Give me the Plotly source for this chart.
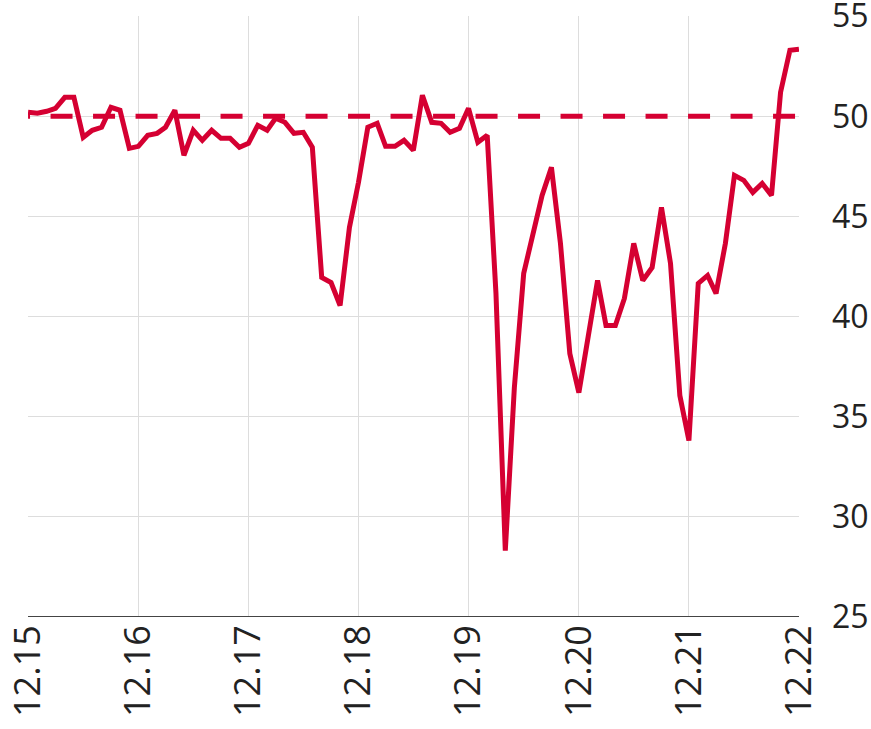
import pandas as pd
import plotly.graph_objects as go

# Monthly dates Dec 2015 .. Dec 2022
dates = pd.date_range("2015-12-01", "2022-12-01", freq="MS").strftime("%Y-%m-%d").tolist()

values = [
    50.2, 50.15, 50.25, 50.4, 50.95, 50.95, 48.95, 49.3, 49.45, 50.45, 50.3, 48.4,
    48.5, 49.05, 49.15, 49.45, 50.3, 48.05, 49.3, 48.8, 49.3, 48.9, 48.9, 48.45,
    48.65, 49.55, 49.3, 49.9, 49.7, 49.15, 49.2, 48.45, 41.95, 41.7, 40.55, 44.45,
    46.7, 49.45, 49.65, 48.5, 48.5, 48.8, 48.3, 51.05, 49.7, 49.65, 49.2, 49.4,
    50.4, 48.7, 49.05, 41.15, 28.3, 36.45, 42.15, 43.95, 46.05, 47.45, 43.65, 38.15,
    36.2, 39.0, 41.8, 39.55, 39.55, 40.9, 43.65, 41.8, 42.45, 45.45, 42.65, 36.05,
    33.8, 41.65, 42.05, 41.15, 43.65, 47.05, 46.8, 46.2, 46.65, 46.05, 51.2, 53.3,
    53.35,
]

threshold = 50

tick_dates = ["2015-12-01", "2016-12-01", "2017-12-01", "2018-12-01",
              "2019-12-01", "2020-12-01", "2021-12-01", "2022-12-01"]
tick_labels = ["12.15", "12.16", "12.17", "12.18", "12.19", "12.20", "12.21", "12.22"]
y_ticks = [25, 30, 35, 40, 45, 50, 55]

RED = "#D50032"

fig = go.Figure()
fig.add_trace(go.Scatter(
    x=[dates[0], dates[-1]], y=[threshold, threshold], mode="lines",
    line=dict(color=RED, width=5, dash="2px,20.5px,20px,0px"),
    hoverinfo="skip", showlegend=False,
))
fig.add_trace(go.Scatter(
    x=dates, y=values, mode="lines",
    line=dict(color=RED, width=5),
    showlegend=False,
))

fig.update_layout(
    width=871, height=729,
    margin=dict(l=28, r=72, t=16, b=112),
    plot_bgcolor="white", paper_bgcolor="white",
    font=dict(family="Open Sans", size=34, color="#222222"),
    xaxis=dict(
        range=["2015-11-30 20:00", "2022-12-01 04:00"],
        tickvals=tick_dates, ticktext=tick_labels, tickangle=-90,
        tickfont=dict(size=36),
        showgrid=True, gridcolor="#dddddd", gridwidth=1,
        showline=False, ticks="", ticklabelstandoff=0, zeroline=False,
        automargin=False, ticklabeloverflow="allow",
    ),
    yaxis=dict(
        range=[24.99, 55.01], side="right", tickvals=y_ticks,
        tickfont=dict(size=32),
        showgrid=True, gridcolor="#dddddd", gridwidth=1,
        showline=False, ticks="", ticklabelstandoff=32, zeroline=False,
        automargin=False, ticklabeloverflow="allow",
    ),
    shapes=[dict(type="line", xref="paper", yref="y", x0=0, x1=1, y0=25, y1=25,
                 line=dict(color="#444444", width=1.5), layer="above")],
)
fig.write_html("out.html", config={"displayModeBar": False},
               post_script="document.body.style.margin='0px';")
